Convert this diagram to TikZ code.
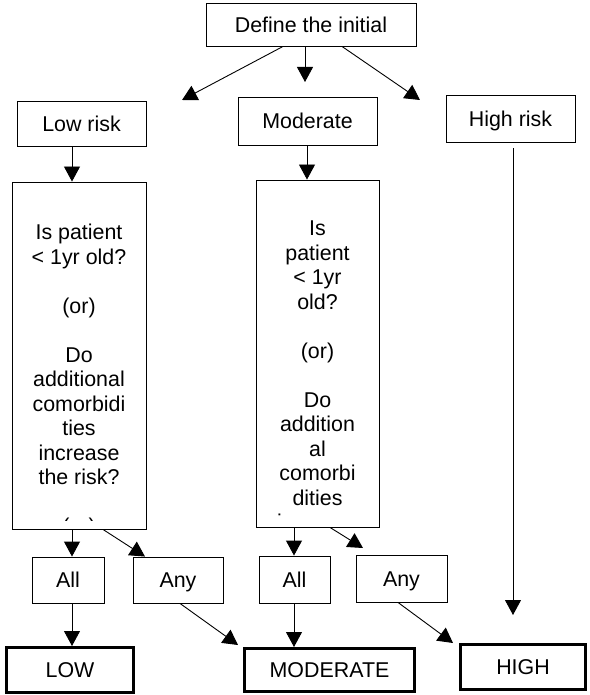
\documentclass[tikz,border=0pt]{standalone}
\usepackage{fontspec}
\setmainfont{Liberation Sans}
\usetikzlibrary{arrows.meta}
\begin{document}
\begin{tikzpicture}[x=1pt,y=-1pt,
  every node/.style={font=\fontsize{21.4}{24.5}\selectfont},
  box/.style={draw, line width=0.9pt, inner sep=0pt, text height=15.3pt, text depth=0pt},
  bbox/.style={draw, line width=3pt, inner sep=0pt, text height=15.3pt, text depth=0pt},
  arr/.style={line width=0.9pt, -{Triangle[length=15pt,width=16pt]}},
  qtext/.style={align=center, inner sep=0pt, anchor=north}]
\useasboundingbox (0,0) rectangle (589,695);

% top level
\node[box, minimum width=210pt, minimum height=43pt] (init) at (311,24.5) {Define the initial};
\node[box, minimum width=129pt, minimum height=45pt] (low) at (81.5,123.5) {Low risk};
\node[box, minimum width=139pt, minimum height=48pt] (mod) at (307.5,121) {Moderate};
\node[box, minimum width=129pt, minimum height=47pt] (high) at (510.5,118.5) {High risk};

% question boxes
\node[box, minimum width=134pt, minimum height=347pt] (q1) at (79,355.5) {};
\node[box, minimum width=123pt, minimum height=347pt] (q2) at (317.5,353.5) {};
\begin{scope}
\clip (12,182) rectangle (146,520);
\node[qtext] (q1t) at (79,222.5) {\strut Is patient\\\strut < 1yr old?\\\strut\\\strut (or)\\\strut\\\strut Do\\\strut additional\\\strut comorbidi\\\strut ties\\\strut increase\\\strut the risk?\\\strut\\\strut (or)};
\end{scope}
\begin{scope}
\clip (256,180) rectangle (379,515.5);
\node[qtext] (q2t) at (317.5,218.5) {\strut Is\\\strut patient\\\strut < 1yr\\\strut old?\\\strut\\\strut (or)\\\strut\\\strut Do\\\strut addition\\\strut al\\\strut comorbi\\\strut dities\\\strut increase};
\end{scope}

% answer boxes
\node[box, minimum width=72pt, minimum height=46pt] (all1) at (68,580) {All};
\node[box, minimum width=90pt, minimum height=46pt] (any1) at (178,580) {Any};
\node[box, minimum width=71pt, minimum height=47pt] (all2) at (294.5,579.5) {All};
\node[box, minimum width=91pt, minimum height=47pt] (any2) at (401.5,578.5) {Any};

% results
\node[bbox, minimum width=127pt, minimum height=45pt] (lowR) at (70,670) {LOW};
\node[bbox, minimum width=170pt, minimum height=43pt] (modR) at (329.5,670) {MODERATE};
\node[bbox, minimum width=125pt, minimum height=45pt] (highR) at (523,667) {HIGH};

% free arrow ends
\coordinate (tL) at (182,100);
\coordinate (tM) at (305,82);
\coordinate (tH) at (420,100);
\coordinate (tHH) at (513,615);
\coordinate (tQ2) at (363,548);

% connectors
\draw[arr] ([xshift=-28pt]init.south) -- (tL);
\draw[arr] ([xshift=-6pt]init.south) -- (tM);
\draw[arr] ([xshift=31pt]init.south) -- (tH);
\draw[arr] ([xshift=-9.5pt]low.south) -- ([xshift=-7pt]q1.north);
\draw[arr] ([xshift=-0.5pt]mod.south) -- ([xshift=-10.5pt]q2.north);
\draw[arr] ([xshift=2.5pt,yshift=-6pt]high.south) -- (tHH);
\draw[arr] ([xshift=-7pt]q1.south) -- ([xshift=4pt]all1.north);
\draw[arr] ([xshift=24pt]q1.south) -- ([xshift=-33pt]any1.north);
\draw[arr] ([xshift=4pt]all1.south) -- ([xshift=2pt]lowR.north);
\draw[arr] ([xshift=2pt]any1.south) -- ([xshift=-5pt,yshift=2pt]modR.north west);
\draw[arr] ([xshift=-23.5pt]q2.south) -- ([xshift=-0.5pt]all2.north);
\draw[arr] ([xshift=12.5pt]q2.south) -- (tQ2);
\draw[arr] ([xshift=-0.5pt]all2.south) -- ([xshift=-35.5pt]modR.north);
\draw[arr] ([xshift=-3.5pt]any2.south) -- ([xshift=-6pt]highR.north west);
\end{tikzpicture}
\end{document}
